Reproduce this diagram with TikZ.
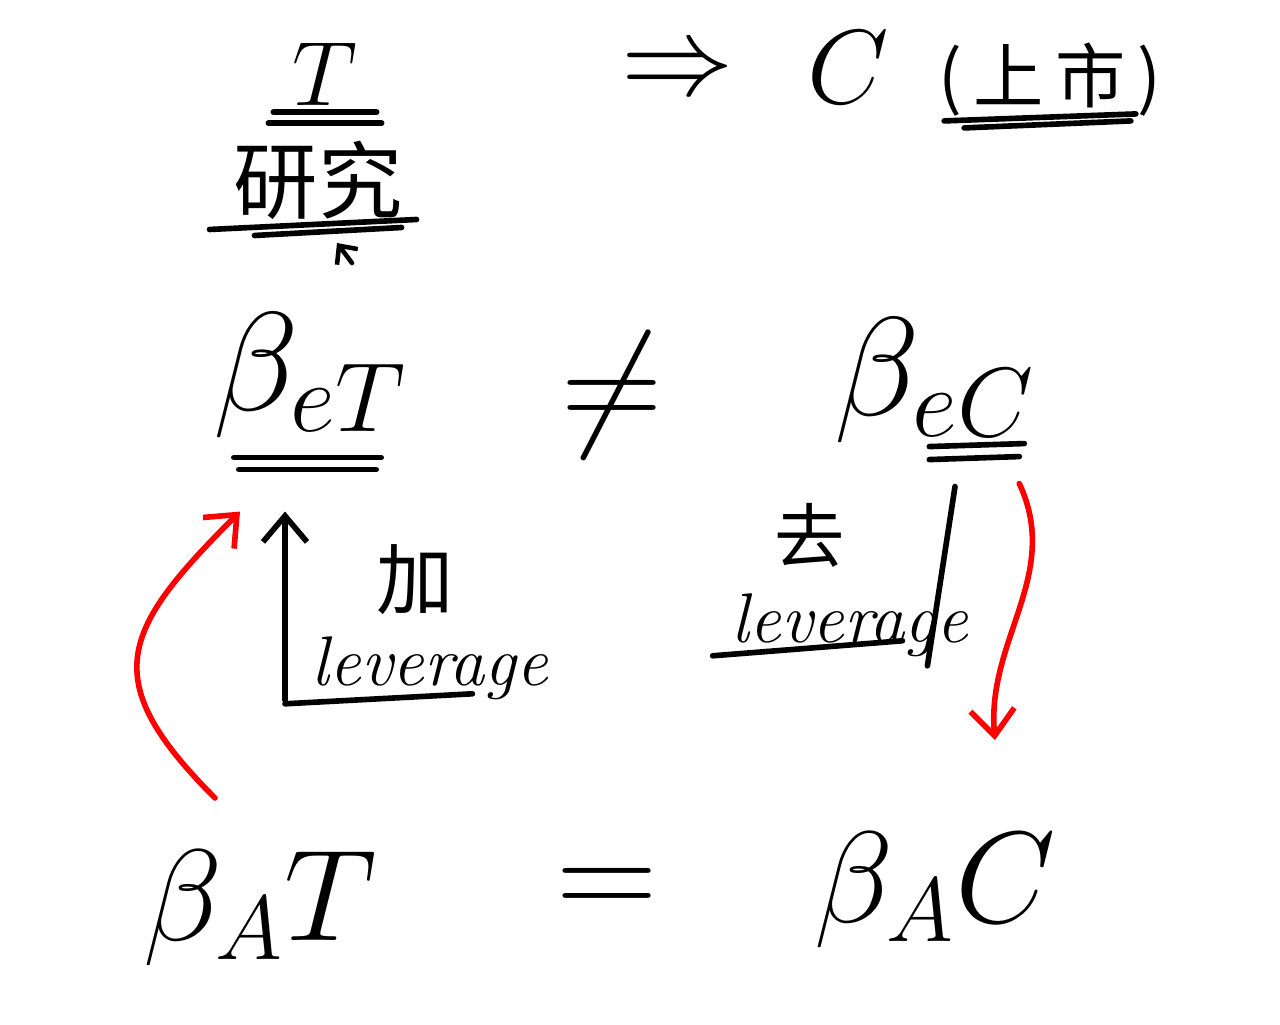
\RequirePackage{fix-cm}
\documentclass[tikz,border=0pt]{standalone}
\usepackage{fontspec}
\newfontfamily\cjk{Noto Sans CJK SC}
\usetikzlibrary{arrows.meta}

\begin{document}
\begin{tikzpicture}[
  >={Straight Barb[length=2.6mm,width=4.4mm]},
  every node/.style={font=\normalsize},
  letter/.style={inner sep=1pt, font=\fontsize{26}{30}\selectfont},
  beta/.style={inner sep=1pt, anchor=base, font=\fontsize{40}{46}\selectfont},
  betabig/.style={inner sep=1pt, anchor=base, font=\fontsize{37}{42}\selectfont},
  relation/.style={inner sep=1pt, font=\fontsize{40}{46}\selectfont},
  hanzi/.style={inner sep=1pt, font=\cjk\fontsize{24}{28}\selectfont},
  hand/.style={inner sep=1pt, font=\itshape\fontsize{20}{24}\selectfont},
  pen/.style={line width=1.6pt, line cap=round},
  arrow/.style={->, pen},
  redarrow/.style={->, pen, red}
]
  \useasboundingbox (0,0) rectangle (12.8,-10.24);

  \node[letter, anchor=base]    (topT)     at (3.25,-1.05)  {$T$};
  \node[hanzi]                  (yanjiu)   at (3.18,-1.8)   {研究};
  \node[relation, font=\fontsize{32}{36}\selectfont] (implies) at (6.78,-0.74) {$\Rightarrow$};
  \node[letter, anchor=base, font=\fontsize{30}{34}\selectfont] (topC) at (8.48,-1.03) {$C$};
  \node[hanzi, font=\cjk\fontsize{20}{24}\selectfont] (listed) at (10.5,-0.8) {(\,上\,市\,)};


  \node[beta]                   (betaeT)   at (3.1,-4.1)    {$\beta_{eT}$};
  \node[relation]               (neq)      at (6.12,-3.95)  {$\neq$};
  \node[beta]                   (betaeC)   at (9.35,-4.15)  {$\beta_{eC}$};


  \node[betabig]                (betaAT)   at (2.6,-9.4)    {$\beta_{A}T$};
  \node[relation]               (eq)       at (6.07,-8.93)  {$=$};
  \node[betabig]                (betaAC)   at (9.35,-9.22)  {$\beta_{A}C$};


  \node[hanzi, font=\cjk\fontsize{22}{26}\selectfont] (jia) at (4.15,-5.8) {加};
  \node[hand]                   (levup)    at (4.3,-6.68)   {leverage};
  \node[hanzi, font=\cjk\fontsize{20}{24}\selectfont] (qu)  at (8.1,-5.35)  {去};
  \node[hand]                   (levdown)  at (8.5,-6.25)   {leverage};

  \coordinate (upfoot)   at (2.85,-7.0);
  \coordinate (tickfrom) at (3.52,-2.63);
  \coordinate (tickto)   at (3.37,-2.43);
  \coordinate (redstart) at (2.15,-7.98);
  \coordinate (redfoot)  at (9.95,-7.4);

  % double underlines
  \draw[pen] ([xshift=-1.5mm,yshift=-0.3mm]topT.south west) -- ([xshift=1.5mm,yshift=-0.3mm]topT.south east);
  \draw[pen] ([xshift=-2mm,yshift=-1.4mm]topT.south west) -- ([xshift=2mm,yshift=-1.4mm]topT.south east);
  \draw[pen] ([xshift=-2mm,yshift=-0.6mm]yanjiu.south west) -- ([xshift=1mm,yshift=0.4mm]yanjiu.south east);
  \draw[pen] ([xshift=2.5mm,yshift=-1.2mm]yanjiu.south west) -- ([xshift=-0.5mm,yshift=-0.4mm]yanjiu.south east);
  \draw[pen] ([xshift=1mm]listed.south west) -- ([xshift=-3mm,yshift=0.7mm]listed.south east);
  \draw[pen] ([xshift=3mm,yshift=-0.7mm]listed.south west) -- ([xshift=-3.5mm]listed.south east);
  \draw[pen] ([xshift=2.5mm,yshift=-1.6mm]betaeT.south west) -- ([xshift=-3mm,yshift=-1.6mm]betaeT.south east);
  \draw[pen] ([xshift=3mm,yshift=-2.8mm]betaeT.south west) -- ([xshift=-3.5mm,yshift=-2.8mm]betaeT.south east);
  \draw[pen] ([xshift=-11mm,yshift=0mm]betaeC.south east) -- ([xshift=-1.5mm,yshift=0.3mm]betaeC.south east);
  \draw[pen] ([xshift=-11mm,yshift=-1.3mm]betaeC.south east) -- ([xshift=-2mm,yshift=-1mm]betaeC.south east);

  % tick under the research line
  \draw[->, pen, line width=1.3pt, {Straight Barb[length=1.4mm,width=2.6mm]}-] (tickto) -- (tickfrom);

  % black connectors
  \draw[arrow] (upfoot) -- ([yshift=-7mm]upfoot |- betaeT.south);
  \draw[pen] (upfoot |- levup.south) -- ([xshift=-8mm,yshift=1mm]levup.south east);
  \draw[pen] ([xshift=-1.5mm,yshift=0.5mm]levdown.south west) -- ([xshift=-7mm,yshift=2mm]levdown.south east);
  \draw[pen] ([xshift=2mm,yshift=-4mm]betaeC.south) -- ([xshift=-4.5mm,yshift=-0.5mm]levdown.south east);

  % red arrows
  \draw[redarrow] (redstart) to[out=135,in=-135,looseness=1.5] ([xshift=-7mm,yshift=-7mm]betaeT.south);
  \draw[redarrow] ([xshift=-2mm,yshift=-3.7mm]betaeC.south east) to[out=-65,in=95] (redfoot);
\end{tikzpicture}
\end{document}
